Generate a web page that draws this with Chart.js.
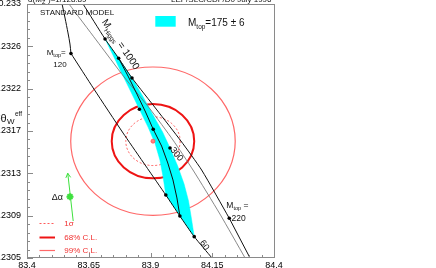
<!DOCTYPE html>
<html><head><meta charset="utf-8">
<style>
html,body{margin:0;padding:0;width:436px;height:268px;overflow:hidden;background:#fff;}
#wrap{position:absolute;left:-20px;top:-10px;width:456px;height:298px;}
</style>
<script src="https://cdn.jsdelivr.net/npm/chart.js@4"></script>
</head><body><div id="wrap"><canvas id="c"></canvas></div>
<script>
// ---- axis ticks ----
const xTicks = [83.4, 83.65, 83.9, 84.15, 84.4];
const xTickLabels = ['83.4', '83.65', '83.9', '84.15', '84.4'];
const yTicks = [0.2305, 0.230917, 0.231333, 0.23175, 0.232167, 0.232583, 0.233];
const yTickLabels = ['0.2305', '0.2309', '0.2313', '0.2317', '0.2322', '0.2326', '0.233'];

// ---- measurement (Gamma_l [MeV], sin2theta_eff) ----
const measCentre = [83.91, 0.23165];
const ellipseRx = [0.11, 0.167, 0.333];
const ellipseRy = [0.00024, 0.000365, 0.00073];
const ellipseNames = ['1\u03c3', '68% C.L.', '99% C.L.'];

// ---- Standard Model prediction ----
const bandMtop169 = [[83.716,0.232656],[83.748,0.232498],[83.781,0.232331],[83.817,0.232154],[83.855,0.231964],[83.890,0.231789],[83.918,0.231632],[83.938,0.231465],[83.951,0.231297],[83.962,0.231120],[84.019,0.230913],[84.077,0.230710]];
const bandMtop181 = [[83.716,0.232656],[83.771,0.232466],[83.825,0.232272],[83.868,0.232095],[83.910,0.231908],[83.949,0.231740],[83.979,0.231583],[84.010,0.231406],[84.036,0.231228],[84.054,0.231061],[84.066,0.230884],[84.077,0.230710]];
const mtop175 = [[83.771,0.232466],[83.809,0.232291],[83.845,0.232114],[83.880,0.231937],[83.911,0.231767],[83.945,0.231602],[83.970,0.231435],[83.991,0.231268],[84.007,0.231091],[84.019,0.230913]];
const mtop120 = [[83.542,0.233000],[83.554,0.232862],[83.566,0.232715],[83.574,0.232606],[83.578,0.232513]];
const mh60 = [[83.578,0.232513],[83.671,0.232163],[83.789,0.231730],[83.962,0.231120],[84.019,0.230913],[84.077,0.230710],[84.149,0.230500]];
const mh1000 = [[83.627,0.233000],[83.716,0.232656],[83.771,0.232466],[83.825,0.232272],[83.926,0.231957],[84.023,0.231652],[84.107,0.231366],[84.219,0.230891]];
const mtop220 = [[84.219,0.230891],[84.303,0.230500]];
const thinLine = [[83.570,0.233000],[83.680,0.232646],[83.793,0.232282],[83.898,0.231967],[83.991,0.231661],[84.072,0.231366],[84.181,0.230933],[84.283,0.230500]];
const gridDots = [[83.578,0.232513],[84.219,0.230891],[83.716,0.232656],[83.771,0.232466],[83.825,0.232272],[83.855,0.231964],[83.911,0.231767],[83.979,0.231583],[83.962,0.231120],[84.019,0.230913],[84.077,0.230710]];
const deltaAlpha = [[83.587,0.230864],[83.565,0.231334]];
const deltaAlphaCentre = [[83.574,0.231103]];

const FONT = '"Liberation Sans", Arial, Helvetica, sans-serif';
const ellStyles = [
  {color:'#ff5a5a', width:1, dash:[2,2]},
  {color:'#ee1414', width:2, dash:[]},
  {color:'#ff6868', width:1.2, dash:[]}
];
const GREEN = '#3ee03e';
const xy = a => a.map(p => ({x:p[0], y:p[1]}));
const lineDs = (label, arr, color, w, order, extra) => Object.assign({label, data: xy(arr), showLine:true, borderColor:color, borderWidth:w, pointRadius:0, fill:false, order}, extra||{});

function runs(ctx, parts, x, y) {
  let cx = x;
  parts.forEach(([t, s, dy]) => {
    ctx.font = s + 'px ' + FONT;
    ctx.fillText(t, cx, y + (dy || 0));
    cx += ctx.measureText(t).width;
  });
}
function rot(ctx, parts, px, py, ang) {
  ctx.save(); ctx.translate(px, py); ctx.rotate(ang); runs(ctx, parts, 0, 0); ctx.restore();
}

const deco = {
  id: 'deco',
  beforeDatasetsDraw(chart) {
    const {ctx, scales:{x, y}} = chart;
    const cx = x.getPixelForValue(measCentre[0]), cy = y.getPixelForValue(measCentre[1]);
    ctx.save();
    ellipseRx.forEach((rx, i) => {
      const st = ellStyles[i];
      const prx = x.getPixelForValue(measCentre[0] + rx) - cx;
      const pry = cy - y.getPixelForValue(measCentre[1] + ellipseRy[i]);
      ctx.beginPath(); ctx.ellipse(cx, cy, prx, pry, 0, 0, Math.PI * 2);
      ctx.lineWidth = st.width; ctx.strokeStyle = st.color; ctx.setLineDash(st.dash); ctx.stroke();
    });
    ctx.restore();
  },
  afterDatasetsDraw(chart) {
    const {ctx, chartArea:a, scales:{x, y}} = chart;
    const ox = a.left - 27, oy = a.top - 4;
    const P = (px, py) => [px + ox, py + oy];
    const pix = p => [x.getPixelForValue(p[0]), y.getPixelForValue(p[1])];
    const angOf = (p1, p2) => { const A = pix(p1), B = pix(p2); return Math.atan2(B[1]-A[1], B[0]-A[0]); };
    ctx.save();
    // arrow head
    const idx = chart.data.datasets.findIndex(d => d.label === 'deltaAlpha');
    const am = chart.getDatasetMeta(idx).data;
    if (am.length === 2) {
      const tx = am[1].x, ty = am[1].y, bx = am[0].x, by = am[0].y;
      const ang = Math.atan2(by - ty, bx - tx);
      ctx.strokeStyle = GREEN; ctx.lineWidth = 1;
      ctx.beginPath();
      ctx.moveTo(tx + 5*Math.cos(ang+0.5), ty + 5*Math.sin(ang+0.5));
      ctx.lineTo(tx, ty);
      ctx.lineTo(tx + 5*Math.cos(ang-0.5), ty + 5*Math.sin(ang-0.5));
      ctx.stroke();
    }
    // frame
    ctx.setLineDash([]);
    ctx.strokeStyle = '#8a8a8a'; ctx.lineWidth = 1;
    ctx.strokeRect(a.left + 0.5, a.top + 0.5, a.right - a.left, a.bottom - a.top - 1);
    // inward ticks
    ctx.beginPath();
    for (let k = 0; k <= 20; k++) {
      const v = xTicks[0] + k * (xTicks[1] - xTicks[0]) / 5;
      const px = Math.round(x.getPixelForValue(v)) + 0.5;
      const len = (k % 5 === 0) ? 5 : 3;
      ctx.moveTo(px, a.bottom); ctx.lineTo(px, a.bottom - len);
    }
    for (let i = 0; i < yTicks.length; i++) {
      const py = Math.round(y.getPixelForValue(yTicks[i])) + 0.5;
      ctx.moveTo(a.left, py); ctx.lineTo(a.left + 6, py);
      if (i < yTicks.length - 1) {
        for (let m = 1; m < 5; m++) {
          const v = yTicks[i] + m * (yTicks[i+1] - yTicks[i]) / 5;
          const q = Math.round(y.getPixelForValue(v)) + 0.5;
          ctx.moveTo(a.left, q); ctx.lineTo(a.left + 3, q);
        }
      }
    }
    ctx.stroke();

    // texts
    ctx.fillStyle = '#111'; ctx.textAlign = 'left'; ctx.textBaseline = 'alphabetic';
    let p;
    p = P(40, 15); runs(ctx, [['STANDARD MODEL', 8]], p[0], p[1]);
    p = P(28, 2); runs(ctx, [['\u03b1(M', 8], ['Z', 5.5, 1.5], ['\u00b2)=1/128.89', 8]], p[0], p[1]);
    p = P(171, 2); runs(ctx, [['LEP/SLC/CDF/D0 July 1996', 8]], p[0], p[1]);
    // top-right legend
    p = P(155.3, 16); ctx.fillStyle = '#00ffff'; ctx.fillRect(p[0], p[1], 20.4, 10.7);
    ctx.fillStyle = '#111';
    p = P(188, 26); runs(ctx, [['M', 10], ['top', 6.5, 3], ['=175 \u00b1 6', 10]], p[0], p[1]);
    // rotated labels
    p = P(101.5, 22); rot(ctx, [['M', 10], ['Higgs', 6.5, 3], [' = 1000', 10]], p[0], p[1], angOf(mh1000[1], mh1000[3]));
    p = P(170, 150); rot(ctx, [['300', 9]], p[0], p[1], angOf(gridDots[5], gridDots[7]));
    p = P(199.5, 242.5); rot(ctx, [['60', 9]], p[0], p[1], angOf(mh60[3], mh60[5]));
    // M_top labels
    p = P(46.7, 55); runs(ctx, [['M', 8], ['top', 5.5, 2], ['=', 8]], p[0], p[1]);
    p = P(53.3, 67); runs(ctx, [['120', 8]], p[0], p[1]);
    p = P(226.3, 208); runs(ctx, [['M', 8.5], ['top', 5.5, 2], [' =', 8.5]], p[0], p[1]);
    p = P(231.5, 220.5); runs(ctx, [['220', 8.5]], p[0], p[1]);
    // delta alpha
    p = P(51.7, 199.7); runs(ctx, [['\u0394\u03b1', 9]], p[0], p[1]);
    // y title (partly outside)
    ctx.textAlign = 'right';
    p = P(6.5, 122); runs(ctx, [['sin\u00b2\u03b8', 11]], p[0], p[1]);
    ctx.textAlign = 'left';
    p = P(7, 124); runs(ctx, [['W', 8]], p[0], p[1]);
    p = P(15, 116); runs(ctx, [['eff', 6.5]], p[0], p[1]);
    // bottom-left legend
    const ly = [223.5, 237.5, 250.5];
    ellipseNames.forEach((n, i) => {
      const st = ellStyles[i];
      const a1 = P(39.5, ly[i]), a2 = P(55, ly[i]);
      ctx.beginPath(); ctx.moveTo(a1[0], a1[1]); ctx.lineTo(a2[0], a2[1]);
      ctx.strokeStyle = st.color; ctx.lineWidth = st.width; ctx.setLineDash(st.dash); ctx.stroke();
      ctx.setLineDash([]);
      ctx.fillStyle = '#f03030'; ctx.textBaseline = 'middle';
      const t = P(64.3, ly[i]); runs(ctx, [[n, 8]], t[0], t[1]);
    });
    ctx.restore();
  }
};

new Chart(document.getElementById('c'), {
  type: 'scatter',
  data: {
    datasets: [
      lineDs('band169', bandMtop169, '#00ffff', 0.5, 10, {fill:'+1', backgroundColor:'#00ffff'}),
      lineDs('band181', bandMtop181, '#00ffff', 0.5, 10),
      lineDs('mtop175', mtop175, '#111', 1, 5),
      lineDs('mtop120', mtop120, '#111', 1, 5, {tension:0.3}),
      lineDs('mh60', mh60, '#111', 1, 5, {tension:0.2}),
      lineDs('mh1000', mh1000, '#111', 1, 5, {tension:0.2}),
      lineDs('mtop220', mtop220, '#111', 1, 5),
      lineDs('thin', thinLine, '#6a6a6a', 0.8, 6, {tension:0.2}),
      lineDs('deltaAlpha', deltaAlpha, GREEN, 1, 4),
      {label:'daCentre', data: xy(deltaAlphaCentre), showLine:false, pointStyle:'star', pointRadius:3.5, borderColor:GREEN, backgroundColor:GREEN, borderWidth:1.8, order:3},
      {label:'dots', data: xy(gridDots), showLine:false, pointRadius:1.8, borderWidth:0, backgroundColor:'#000', order:2},
      {label:'centre', data: xy([measCentre]), showLine:false, pointRadius:2, borderWidth:0.8, borderColor:'#ff5050', backgroundColor:'#ff8080', order:2}
    ]
  },
  options: {
    responsive: true, maintainAspectRatio: false, animation: false, devicePixelRatio: 1, events: [],
    layout: {padding: {left:0, right:162, top:14, bottom:10}},
    plugins: {legend:{display:false}, tooltip:{enabled:false}},
    scales: {
      x: {
        type:'linear', position:'bottom', min:83.4, max:84.4,
        afterBuildTicks: s => { s.ticks = xTicks.map(v => ({value:v})); },
        afterFit: s => { s.height = 20; },
        ticks: {callback:(v, i) => xTickLabels[i], font:{family:FONT, size:9}, color:'#000', padding:2, maxRotation:0, autoSkip:false},
        grid: {display:false, drawTicks:false}, border:{display:false}
      },
      y: {
        type:'linear', position:'left', min:0.2305, max:0.233,
        afterBuildTicks: s => { s.ticks = yTicks.map(v => ({value:v})); },
        afterFit: s => { s.width = 47; },
        ticks: {callback:(v, i) => yTickLabels[i], font:{family:FONT, size:9}, color:'#000', padding:6, autoSkip:false},
        grid: {display:false, drawTicks:false}, border:{display:false}
      }
    }
  },
  plugins: [deco]
});
</script>
</body></html>
